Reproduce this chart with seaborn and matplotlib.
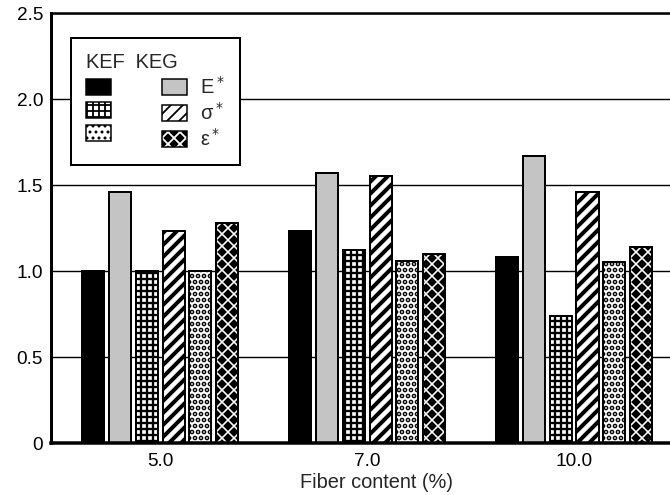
import matplotlib
matplotlib.use("Agg")
import matplotlib.pyplot as plt
import pandas as pd
import seaborn as sns
from matplotlib.legend_handler import HandlerTuple
from matplotlib.patches import Patch, Rectangle

fiber = ["5.0", "7.0", "10.0"]
series = ["KEF E*", "KEG E*", "KEF σ*", "KEG σ*", "KEF ε*", "KEG ε*"]
kef_E = [1.00, 1.23, 1.08]
keg_E = [1.46, 1.57, 1.67]
kef_s = [1.00, 1.12, 0.74]
keg_s = [1.23, 1.55, 1.46]
kef_e = [1.00, 1.06, 1.05]
keg_e = [1.28, 1.10, 1.14]
legend_labels = ["E$^*$", "σ$^*$", "ε$^*$"]
yticks = [0, 0.5, 1.0, 1.5, 2.0, 2.5]
ytick_labels = ["0", "0.5", "1.0", "1.5", "2.0", "2.5"]

values = [kef_E, keg_E, kef_s, keg_s, kef_e, keg_e]
rows = []
for name, vals in zip(series, values):
    for f, v in zip(fiber, vals):
        rows.append({"fiber": f, "series": name, "value": v})
df = pd.DataFrame(rows)

# look of each series: fill colour, hatch and hatch line width
fills = ["black", "#c4c4c4", "white", "white", "white", "black"]
hatches = [None, None, "++", "//", "..", "xx"]
hatch_lw = [1, 1, 2.3, 4.0, 3.4, 1.6]

sns.set_style("white")
plt.rcParams["font.family"] = ["Liberation Sans", "DejaVu Sans"]
plt.rcParams["hatch.linewidth"] = 1.8


def set_hlw(p, lw):
    if hasattr(p, "set_hatch_linewidth"):
        p.set_hatch_linewidth(lw)


fig = plt.figure(figsize=(670 / 72, 495 / 72), dpi=72)
ax = fig.add_axes([51 / 670, 52 / 495, 651 / 670, 430 / 495])

sns.barplot(data=df, x="fiber", y="value", hue="series", hue_order=series,
            palette=dict(zip(series, fills)), saturation=1, width=0.78, gap=0.18,
            edgecolor="black", linewidth=2, legend=False, ax=ax, zorder=2)

for cont, h, hl in zip(ax.containers, hatches, hatch_lw):
    for p in cont:
        if h is None:
            continue
        p.set_hatch(h)
        set_hlw(p, hl)
        if h.startswith("x"):
            # white weave on black: hatch takes the edge colour, so outline separately
            p.set_edgecolor("white")
            p.set_linewidth(0)
            ax.add_patch(Rectangle(p.get_xy(), p.get_width(), p.get_height(),
                                   fill=False, edgecolor="black", lw=2, zorder=3))

ax.set_xlim(-0.527, 2.618)
ax.set_ylim(0, 2.5)
ax.set_yticks(yticks)
ax.set_yticklabels(ytick_labels)
ax.set_xlabel("Fiber content (%)", fontsize=20, labelpad=3)
ax.set_ylabel("")
ax.tick_params(axis="both", length=0, labelsize=19, colors="black")
ax.tick_params(axis="y", pad=8)
ax.tick_params(axis="x", pad=10)

ax.yaxis.grid(True, color="black", lw=1.4)
ax.set_axisbelow(True)
ax.spines["right"].set_visible(False)
ax.spines["left"].set_linewidth(3)
ax.spines["top"].set_linewidth(2.5)
ax.spines["bottom"].set_linewidth(3.5)
for s in ax.spines.values():
    s.set_color("black")

handles = []
for fc, h, hl in zip(fills, hatches, hatch_lw):
    if h is not None and h.startswith("x"):
        inner = Patch(facecolor=fc, edgecolor="white", hatch=h, lw=0)
        set_hlw(inner, hl)
        handles.append((inner, Patch(fill=False, edgecolor="black", lw=1.5)))
    else:
        hp = Patch(facecolor=fc, edgecolor="black", hatch=h, lw=1.5)
        set_hlw(hp, hl)
        handles.append(hp)
# KEF in the first column, KEG in the second
order = [0, 2, 4, 1, 3, 5]
leg_handles = [handles[i] for i in order]
leg_labels = ["", "", ""] + legend_labels

leg = ax.legend(leg_handles, leg_labels, ncols=2, loc="upper left",
                bbox_to_anchor=(0.0307, 0.942), borderaxespad=0,
                title="KEF  KEG", title_fontsize=20, fontsize=20, alignment="left",
                frameon=True, fancybox=False, edgecolor="black", framealpha=1,
                handlelength=1.25, handleheight=0.85, handletextpad=0.65,
                columnspacing=1.9, borderpad=0.75, labelspacing=0.2,
                handler_map={tuple: HandlerTuple(ndivide=1)})
leg.get_frame().set_linewidth(2)
leg.set_zorder(5)

fig.savefig("out.png", dpi=72)
